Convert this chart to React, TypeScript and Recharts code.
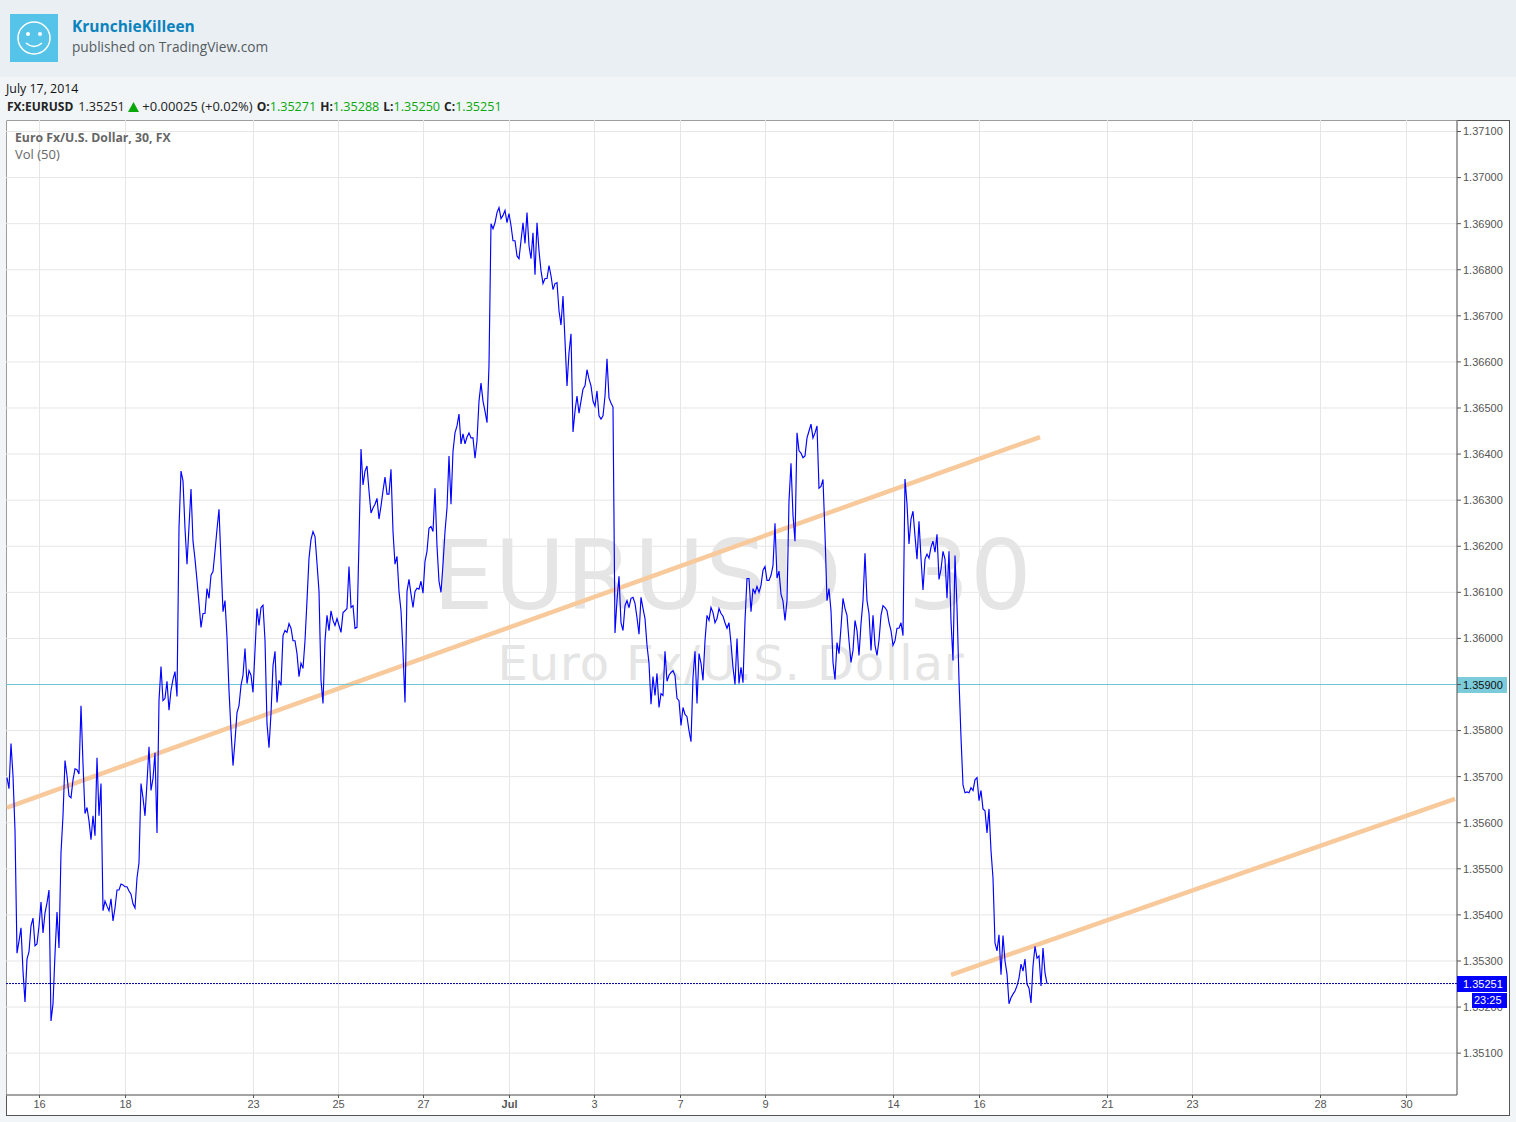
import { CartesianGrid, Line, LineChart, ReferenceLine, XAxis, YAxis } from 'recharts'

// one sample per 2.25 bars of the 30 minute chart
const closes = [
  1.35698, 1.35674, 1.35772, 1.35702, 1.35583, 1.35317, 1.35343, 1.35372, 1.35278, 1.35211,
  1.35304, 1.3532, 1.35376, 1.35393, 1.35333, 1.35337, 1.35376, 1.35428, 1.35361, 1.35404,
  1.35426, 1.35454, 1.3517, 1.35207, 1.35315, 1.35406, 1.35328, 1.35535, 1.35615, 1.35735,
  1.35702, 1.35658, 1.35654, 1.35693, 1.35717, 1.35715, 1.35706, 1.35854, 1.35728, 1.3562,
  1.35633, 1.35604, 1.35563, 1.35615, 1.35572, 1.35741, 1.35615, 1.35685, 1.35409, 1.3543,
  1.35419, 1.35409, 1.35435, 1.35387, 1.35415, 1.35454, 1.35454, 1.35467, 1.35465, 1.35461,
  1.35461, 1.35452, 1.35445, 1.35424, 1.35415, 1.3548, 1.35513, 1.35685, 1.35654, 1.35615,
  1.35687, 1.35765, 1.3567, 1.35696, 1.35752, 1.35578, 1.35865, 1.35939, 1.35865, 1.3587,
  1.35907, 1.35844, 1.35887, 1.35911, 1.35928, 1.35874, 1.36239, 1.36363, 1.36342, 1.36239,
  1.36161, 1.36243, 1.36324, 1.36211, 1.36172, 1.36126, 1.36076, 1.36024, 1.36054, 1.36054,
  1.36108, 1.36087, 1.36137, 1.36145, 1.36189, 1.36237, 1.3628, 1.36167, 1.36058, 1.36082,
  1.36002, 1.35887, 1.358, 1.35724, 1.35778, 1.35839, 1.35854, 1.35898, 1.3592, 1.35978,
  1.35902, 1.3593, 1.3592, 1.35883, 1.35974, 1.36065, 1.36028, 1.36067, 1.36072, 1.35996,
  1.35815, 1.35763, 1.35837, 1.35941, 1.35972, 1.35861, 1.35909, 1.35898, 1.36006, 1.36017,
  1.36013, 1.36032, 1.36022, 1.35995, 1.35995, 1.35967, 1.35917, 1.35946, 1.35935, 1.35995,
  1.36082, 1.36174, 1.36215, 1.36232, 1.36221, 1.36163, 1.36102, 1.35909, 1.35859, 1.35995,
  1.3605, 1.36017, 1.3606, 1.36039, 1.36028, 1.36043, 1.36028, 1.36013, 1.36056, 1.3606,
  1.36065, 1.36156, 1.36067, 1.36071, 1.36022, 1.36024, 1.36211, 1.36411, 1.36333, 1.36363,
  1.36374, 1.3632, 1.36272, 1.36283, 1.36291, 1.36304, 1.36259, 1.36287, 1.3632, 1.3635,
  1.36313, 1.36313, 1.36367, 1.36232, 1.36161, 1.36178, 1.36102, 1.3606, 1.3597, 1.35861,
  1.36102, 1.36128, 1.36096, 1.36067, 1.36102, 1.36109, 1.36107, 1.36124, 1.36098, 1.36167,
  1.36189, 1.36239, 1.36243, 1.36232, 1.36326, 1.362, 1.36124, 1.361, 1.36161, 1.36232,
  1.36283, 1.36396, 1.36291, 1.36406, 1.36446, 1.36461, 1.36487, 1.36422, 1.36444, 1.36422,
  1.36437, 1.36446, 1.36435, 1.36435, 1.36391, 1.36429, 1.36515, 1.36554, 1.36515, 1.36493,
  1.36468, 1.36592, 1.369, 1.36889, 1.36902, 1.36924, 1.36935, 1.36911, 1.36918, 1.36929,
  1.36902, 1.36922, 1.36896, 1.36863, 1.36863, 1.3683, 1.36824, 1.36863, 1.36902, 1.36857,
  1.36924, 1.36852, 1.36824, 1.3688, 1.36789, 1.36902, 1.36841, 1.36798, 1.3677, 1.36781,
  1.36781, 1.36809, 1.36787, 1.36757, 1.3677, 1.36772, 1.36711, 1.3668, 1.36743, 1.36646,
  1.36548, 1.3662, 1.36661, 1.36448, 1.36493, 1.36526, 1.36489, 1.36515, 1.36541, 1.36548,
  1.36583, 1.36563, 1.36548, 1.36515, 1.36504, 1.36537, 1.36483, 1.36476, 1.36483, 1.36526,
  1.36607, 1.36522, 1.36511, 1.36502, 1.36012, 1.36083, 1.36135, 1.36034, 1.36017, 1.36071,
  1.36082, 1.36067, 1.36087, 1.36089, 1.36076, 1.36045, 1.36009, 1.36089, 1.36065, 1.36043,
  1.35985, 1.35946, 1.35857, 1.35917, 1.35876, 1.35924, 1.3585, 1.3588, 1.35876, 1.35972,
  1.35907, 1.3592, 1.35926, 1.3593, 1.3592, 1.3587, 1.35865, 1.35811, 1.3585, 1.35835,
  1.3583, 1.358, 1.35776, 1.35915, 1.35972, 1.35859, 1.35967, 1.35946, 1.35909, 1.35995,
  1.3605, 1.36039, 1.36067, 1.36056, 1.36034, 1.36043, 1.36065, 1.36054, 1.36048, 1.36034,
  1.36022, 1.36034, 1.35989, 1.35937, 1.359, 1.36, 1.35902, 1.35937, 1.35904, 1.36039,
  1.3613, 1.3613, 1.36058, 1.36108, 1.36098, 1.36113, 1.361, 1.36115, 1.36148, 1.36156,
  1.36126, 1.36126, 1.36137, 1.36158, 1.3625, 1.36131, 1.36146, 1.36096, 1.36081, 1.36039,
  1.36082, 1.36298, 1.3638, 1.36267, 1.36211, 1.36446, 1.36407, 1.36402, 1.36392, 1.36396,
  1.36435, 1.3645, 1.36465, 1.36435, 1.36446, 1.36461, 1.36326, 1.3633, 1.36345, 1.36226,
  1.36082, 1.36108, 1.3606, 1.35948, 1.35911, 1.35991, 1.35967, 1.36024, 1.36087, 1.36065,
  1.3605, 1.35995, 1.35948, 1.35974, 1.36039, 1.36017, 1.35963, 1.36032, 1.36082, 1.36185,
  1.36082, 1.36054, 1.35974, 1.3605, 1.35985, 1.35963, 1.35996, 1.3605, 1.36071, 1.36067,
  1.3606, 1.36034, 1.36017, 1.35985, 1.35995, 1.36022, 1.36022, 1.36034, 1.36006, 1.36346,
  1.36292, 1.36205, 1.36259, 1.36276, 1.36222, 1.36172, 1.36254, 1.36174, 1.36105, 1.36172,
  1.36183, 1.36174, 1.36198, 1.36211, 1.36187, 1.36226, 1.36128, 1.3615, 1.36189, 1.36172,
  1.36087, 1.36189, 1.36038, 1.35952, 1.3618, 1.36067, 1.35909, 1.35785, 1.35682, 1.35665,
  1.35667, 1.35665, 1.35676, 1.3567, 1.35693, 1.35698, 1.35648, 1.3567, 1.3563, 1.35626,
  1.35578, 1.3563, 1.35539, 1.3548, 1.35339, 1.35322, 1.35357, 1.3527, 1.35355, 1.353,
  1.35272, 1.35207, 1.3522, 1.35228, 1.35235, 1.35246, 1.35263, 1.35293, 1.35278, 1.35304,
  1.3525, 1.35241, 1.35209, 1.35289, 1.35332, 1.35306, 1.35311, 1.35246, 1.35328, 1.35274,
  1.35251,
]

const dayTickSamples = [16.25, 59.25, 123.25, 165.75, 208.25, 251.25, 293.75, 336.75, 379.25, 443.25, 486.25, 550.25, 592.75, 656.75, 699.75]
const dayTickLabels = ['16', '18', '23', '25', '27', 'Jul', '3', '7', '9', '14', '16', '21', '23', '28', '30']
const priceTicks = [
  1.351, 1.352, 1.353, 1.354, 1.355, 1.356, 1.357, 1.358, 1.359, 1.36, 1.361,
  1.362, 1.363, 1.364, 1.365, 1.366, 1.367, 1.368, 1.369, 1.37, 1.371,
]

const upperTrendSamples = [0, 516.5]
const upperTrendPrices = [1.35633, 1.36437]
const lowerTrendSamples = [472, 724]
const lowerTrendPrices = [1.3527, 1.35652]

const lastPrice = 1.35251
const alertPrice = 1.359

const chartData = closes.map((close, sample) => ({ sample, close }))

const axisFont = '"Liberation Sans", Arial, sans-serif'
const uiFont = '"Open Sans", sans-serif'
const green = '#09a809'

function DayTick({ x, y, payload }: any) {
  const label = dayTickLabels[dayTickSamples.indexOf(payload.value)]
  return (
    <text
      x={x}
      y={y + 8}
      textAnchor="middle"
      fontFamily={axisFont}
      fontSize={11}
      fontWeight={label === 'Jul' ? 'bold' : 'normal'}
      fill="#555"
    >
      {label}
    </text>
  )
}

function PriceTag({ viewBox, fill, color, text, extra }: any) {
  const left = viewBox.x + viewBox.width
  const mid = Math.floor(viewBox.y)
  return (
    <g fontFamily={axisFont} fontSize={11}>
      <rect x={left} y={mid - 7} width={50} height={16} fill={fill} />
      <text x={left + 6} y={mid + 5} fill={color}>{text}</text>
      {extra && <rect x={left + 15} y={mid + 10} width={35} height={15} fill={fill} />}
      {extra && <text x={left + 17} y={mid + 21} fill={color}>{extra}</text>}
    </g>
  )
}

function Smiley() {
  return (
    <svg width={48} height={48} style={{ position: 'absolute', left: 10, top: 14 }}>
      <rect width={48} height={48} fill="#56c4e8" />
      <circle cx={24} cy={24} r={16} fill="none" stroke="#fff" strokeWidth={1.5} />
      <circle cx={18} cy={20} r={2} fill="#fff" />
      <circle cx={30} cy={20} r={2} fill="#fff" />
      <path d="M16 29 Q24 36 32 29" fill="none" stroke="#fff" strokeWidth={1.5} />
    </svg>
  )
}

const abs = (left: number, top: number, rest: object) =>
  ({ position: 'absolute', left, top, whiteSpace: 'nowrap', ...rest }) as React.CSSProperties

export default function App() {
  return (
    <div style={abs(0, 0, { width: 1516, height: 1122, background: '#f1f5f8', overflow: 'hidden', fontFamily: uiFont })}>
      <div style={abs(0, 0, { width: 1516, height: 77, background: '#e9eff3' })} />
      <Smiley />
      <div style={abs(72, 15, { fontSize: 15.5, fontWeight: 700, color: '#0a82bd', lineHeight: '22px' })}>KrunchieKilleen</div>
      <div style={abs(72, 37, { fontSize: 13.7, color: '#555b60', lineHeight: '20px' })}>published on TradingView.com</div>

      <div style={abs(6, 80, { fontSize: 12.4, color: '#111', lineHeight: '17px' })}>July 17, 2014</div>
      <div style={abs(7, 98, { fontSize: 12, color: '#222', lineHeight: '17px', display: 'flex', alignItems: 'center' })}>
        <b>FX:EURUSD</b>
        <span style={{ marginLeft: 5, fontSize: 12.6 }}>1.35251</span>
        <svg width={11} height={10} style={{ marginLeft: 3.5 }}>
          <polygon points="5.5,0 11,10 0,10" fill={green} />
        </svg>
        <span style={{ marginLeft: 3, fontSize: 13 }}>+0.00025 (+0.02%)</span>
        <b style={{ marginLeft: 4 }}>O:</b><span style={{ color: green, fontSize: 12.6 }}>1.35271</span>
        <b style={{ marginLeft: 4 }}>H:</b><span style={{ color: green, fontSize: 12.6 }}>1.35288</span>
        <b style={{ marginLeft: 4 }}>L:</b><span style={{ color: green, fontSize: 12.6 }}>1.35250</span>
        <b style={{ marginLeft: 4 }}>C:</b><span style={{ color: green, fontSize: 12.6 }}>1.35251</span>
      </div>

      <div style={abs(6, 120, { width: 1504, height: 996, background: '#fff', border: '1px solid #555', boxSizing: 'border-box' })} />

      <div style={abs(432.5, 516, { fontSize: 97, color: '#e5e5e5', lineHeight: '120px', fontFamily: '"DejaVu Sans", sans-serif', letterSpacing: 0.5, wordSpacing: 34 })}>EURUSD 30</div>
      <div style={abs(431, 630, { width: 600, textAlign: 'center', fontSize: 48, color: '#e5e5e5', lineHeight: '66px', fontFamily: '"DejaVu Sans", sans-serif', letterSpacing: 0.9 })}>Euro Fx/U.S. Dollar</div>

      <div style={abs(6, 120, {})}>
        <LineChart
          width={1504}
          height={996}
          data={chartData}
          margin={{ top: 0, right: 0, bottom: 0, left: 0 }}
        >
          <CartesianGrid stroke="#e6e6e6" />
          <XAxis
            dataKey="sample"
            type="number"
            domain={[-0.5, 725]}
            ticks={dayTickSamples}
            interval={0}
            height={21}
            stroke="#555"
            tickSize={3}
            tick={DayTick}
          />
          <YAxis
            orientation="right"
            type="number"
            domain={[1.3500916, 1.3712496]}
            ticks={priceTicks}
            interval={0}
            width={53}
            stroke="#555"
            tickSize={4}
            tickMargin={2}
            tick={{ fontFamily: axisFont, fontSize: 11, fill: '#555' }}
            tickFormatter={(value: number) => (value === alertPrice ? '' : value.toFixed(5))}
          />
          <ReferenceLine
            segment={[
              { x: upperTrendSamples[0], y: upperTrendPrices[0] },
              { x: upperTrendSamples[1], y: upperTrendPrices[1] },
            ]}
            stroke="#f7c99b"
            strokeWidth={4.5}
            ifOverflow="visible"
          />
          <ReferenceLine
            segment={[
              { x: lowerTrendSamples[0], y: lowerTrendPrices[0] },
              { x: lowerTrendSamples[1], y: lowerTrendPrices[1] },
            ]}
            stroke="#f7c99b"
            strokeWidth={4.5}
            ifOverflow="visible"
          />
          <ReferenceLine
            y={alertPrice}
            stroke="#6fc6d6"
            label={{ content: (props: any) => <PriceTag {...props} fill="#7ccbdb" color="#111" text="1.35900" /> }}
          />
          <ReferenceLine
            y={lastPrice}
            stroke="#0000a0"
            strokeDasharray="2 1"
            zIndex={2000}
            label={{ content: (props: any) => <PriceTag {...props} fill="#0000ff" color="#fff" text="1.35251" extra="23:25" /> }}
          />
          <Line
            type="linear"
            dataKey="close"
            stroke="#0000ff"
            strokeWidth={1.15}
            dot={false}
            activeDot={false}
            isAnimationActive={false}
          />
        </LineChart>
      </div>

      <div style={abs(15, 130, { fontSize: 12.25, fontWeight: 700, color: '#666', lineHeight: '16px' })}>Euro Fx/U.S. Dollar, 30, FX</div>
      <div style={abs(15, 146, { fontSize: 13, color: '#666', lineHeight: '16px' })}>Vol (50)</div>
    </div>
  )
}
